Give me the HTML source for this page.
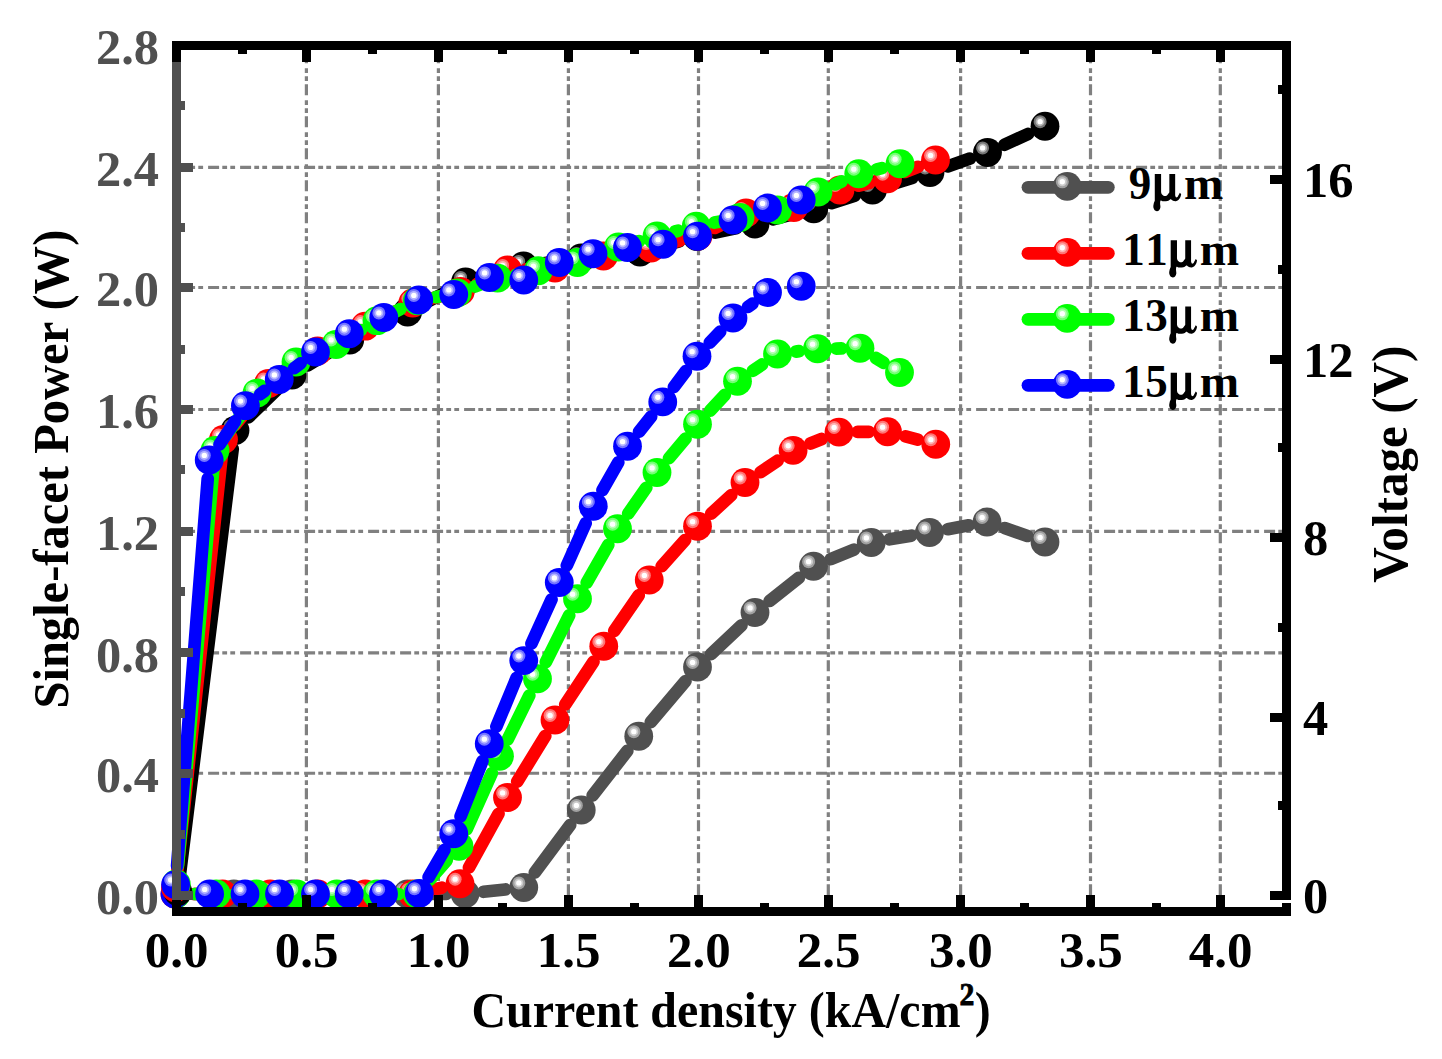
<!DOCTYPE html><html><head><meta charset="utf-8"><title>chart</title><style>html,body{margin:0;padding:0;background:#fff}body{width:1442px;height:1059px;overflow:hidden;font-family:"Liberation Serif",serif}</style></head><body><svg width="1442" height="1059" viewBox="0 0 1442 1059" style="display:block;position:absolute;left:0;top:0;font-family:'Liberation Serif',serif;font-weight:bold"><rect width="1442" height="1059" fill="#fff"/><path d="M306.40 895.30V45.5M438.40 895.30V45.5M568.40 895.30V45.5M698.50 895.30V45.5M828.30 895.30V45.5M960.60 895.30V45.5M1090.50 895.30V45.5M1220.30 895.30V45.5M176.10 773.25H1287M176.10 652.90H1287M176.10 531.30H1287M176.10 409.50H1287M176.10 287.50H1287M176.10 167.30H1287" stroke="#808080" stroke-width="3.2" stroke-dasharray="11 3.2 4.8 3.2 4.8 5" fill="none"/><path d="M194.60 894.00L215.30 894.00M252.50 894.00L273.20 894.00M310.40 894.00L331.10 894.00M368.30 894.00L389.00 894.00M426.20 893.92L446.40 893.83M483.50 891.78L505.25 889.47M534.83 872.56L570.17 824.94M592.69 795.33L627.31 750.92M650.78 722.07L685.47 681.18M711.00 654.20L741.50 625.30M769.59 600.96L798.91 577.79M830.70 559.18L854.05 549.57M889.58 539.35L911.17 535.65M947.80 529.16L968.70 525.34M1004.58 528.06L1027.42 535.94" stroke="#505050" stroke-width="12.7" stroke-linecap="round" fill="none"/><circle cx="176.00" cy="894.00" r="14.4" fill="#505050"/><circle cx="171.10" cy="889.40" r="6.5" fill="#fff" fill-opacity=".46"/><circle cx="171.10" cy="889.40" r="4.5" fill="#fff" fill-opacity=".46"/><circle cx="171.10" cy="889.40" r="2.7" fill="#fff"/><circle cx="233.90" cy="894.00" r="14.4" fill="#505050"/><circle cx="229.00" cy="889.40" r="6.5" fill="#fff" fill-opacity=".46"/><circle cx="229.00" cy="889.40" r="4.5" fill="#fff" fill-opacity=".46"/><circle cx="229.00" cy="889.40" r="2.7" fill="#fff"/><circle cx="291.80" cy="894.00" r="14.4" fill="#505050"/><circle cx="286.90" cy="889.40" r="6.5" fill="#fff" fill-opacity=".46"/><circle cx="286.90" cy="889.40" r="4.5" fill="#fff" fill-opacity=".46"/><circle cx="286.90" cy="889.40" r="2.7" fill="#fff"/><circle cx="349.70" cy="894.00" r="14.4" fill="#505050"/><circle cx="344.80" cy="889.40" r="6.5" fill="#fff" fill-opacity=".46"/><circle cx="344.80" cy="889.40" r="4.5" fill="#fff" fill-opacity=".46"/><circle cx="344.80" cy="889.40" r="2.7" fill="#fff"/><circle cx="407.60" cy="894.00" r="14.4" fill="#505050"/><circle cx="402.70" cy="889.40" r="6.5" fill="#fff" fill-opacity=".46"/><circle cx="402.70" cy="889.40" r="4.5" fill="#fff" fill-opacity=".46"/><circle cx="402.70" cy="889.40" r="2.7" fill="#fff"/><circle cx="465.00" cy="893.75" r="14.4" fill="#505050"/><circle cx="460.10" cy="889.15" r="6.5" fill="#fff" fill-opacity=".46"/><circle cx="460.10" cy="889.15" r="4.5" fill="#fff" fill-opacity=".46"/><circle cx="460.10" cy="889.15" r="2.7" fill="#fff"/><circle cx="523.75" cy="887.50" r="14.4" fill="#505050"/><circle cx="518.85" cy="882.90" r="6.5" fill="#fff" fill-opacity=".46"/><circle cx="518.85" cy="882.90" r="4.5" fill="#fff" fill-opacity=".46"/><circle cx="518.85" cy="882.90" r="2.7" fill="#fff"/><circle cx="581.25" cy="810.00" r="14.4" fill="#505050"/><circle cx="576.35" cy="805.40" r="6.5" fill="#fff" fill-opacity=".46"/><circle cx="576.35" cy="805.40" r="4.5" fill="#fff" fill-opacity=".46"/><circle cx="576.35" cy="805.40" r="2.7" fill="#fff"/><circle cx="638.75" cy="736.25" r="14.4" fill="#505050"/><circle cx="633.85" cy="731.65" r="6.5" fill="#fff" fill-opacity=".46"/><circle cx="633.85" cy="731.65" r="4.5" fill="#fff" fill-opacity=".46"/><circle cx="633.85" cy="731.65" r="2.7" fill="#fff"/><circle cx="697.50" cy="667.00" r="14.4" fill="#505050"/><circle cx="692.60" cy="662.40" r="6.5" fill="#fff" fill-opacity=".46"/><circle cx="692.60" cy="662.40" r="4.5" fill="#fff" fill-opacity=".46"/><circle cx="692.60" cy="662.40" r="2.7" fill="#fff"/><circle cx="755.00" cy="612.50" r="14.4" fill="#505050"/><circle cx="750.10" cy="607.90" r="6.5" fill="#fff" fill-opacity=".46"/><circle cx="750.10" cy="607.90" r="4.5" fill="#fff" fill-opacity=".46"/><circle cx="750.10" cy="607.90" r="2.7" fill="#fff"/><circle cx="813.50" cy="566.25" r="14.4" fill="#505050"/><circle cx="808.60" cy="561.65" r="6.5" fill="#fff" fill-opacity=".46"/><circle cx="808.60" cy="561.65" r="4.5" fill="#fff" fill-opacity=".46"/><circle cx="808.60" cy="561.65" r="2.7" fill="#fff"/><circle cx="871.25" cy="542.50" r="14.4" fill="#505050"/><circle cx="866.35" cy="537.90" r="6.5" fill="#fff" fill-opacity=".46"/><circle cx="866.35" cy="537.90" r="4.5" fill="#fff" fill-opacity=".46"/><circle cx="866.35" cy="537.90" r="2.7" fill="#fff"/><circle cx="929.50" cy="532.50" r="14.4" fill="#505050"/><circle cx="924.60" cy="527.90" r="6.5" fill="#fff" fill-opacity=".46"/><circle cx="924.60" cy="527.90" r="4.5" fill="#fff" fill-opacity=".46"/><circle cx="924.60" cy="527.90" r="2.7" fill="#fff"/><circle cx="987.00" cy="522.00" r="14.4" fill="#505050"/><circle cx="982.10" cy="517.40" r="6.5" fill="#fff" fill-opacity=".46"/><circle cx="982.10" cy="517.40" r="4.5" fill="#fff" fill-opacity=".46"/><circle cx="982.10" cy="517.40" r="2.7" fill="#fff"/><circle cx="1045.00" cy="542.00" r="14.4" fill="#505050"/><circle cx="1040.10" cy="537.40" r="6.5" fill="#fff" fill-opacity=".46"/><circle cx="1040.10" cy="537.40" r="4.5" fill="#fff" fill-opacity=".46"/><circle cx="1040.10" cy="537.40" r="2.7" fill="#fff"/><path d="M193.60 894.00L203.95 894.00M241.15 894.00L251.50 894.00M288.70 894.00L299.05 894.00M336.25 894.00L346.60 894.00M383.80 894.00L394.15 894.00M430.93 890.06L441.82 887.69M468.97 867.46L498.53 813.79M517.22 781.64L545.28 735.86M565.26 704.48L593.49 661.77M614.28 630.92L638.72 595.33M661.67 566.16L685.08 540.09M711.18 513.65L731.32 495.10M760.47 472.18L777.63 460.72M810.38 443.51L821.72 438.99M857.60 431.97L868.90 431.88M905.51 436.41L917.74 439.59" stroke="#ff0000" stroke-width="12.7" stroke-linecap="round" fill="none"/><circle cx="175.00" cy="894.00" r="14.4" fill="#ff0000"/><circle cx="170.10" cy="889.40" r="6.5" fill="#fff" fill-opacity=".46"/><circle cx="170.10" cy="889.40" r="4.5" fill="#fff" fill-opacity=".46"/><circle cx="170.10" cy="889.40" r="2.7" fill="#fff"/><circle cx="222.55" cy="894.00" r="14.4" fill="#ff0000"/><circle cx="217.65" cy="889.40" r="6.5" fill="#fff" fill-opacity=".46"/><circle cx="217.65" cy="889.40" r="4.5" fill="#fff" fill-opacity=".46"/><circle cx="217.65" cy="889.40" r="2.7" fill="#fff"/><circle cx="270.10" cy="894.00" r="14.4" fill="#ff0000"/><circle cx="265.20" cy="889.40" r="6.5" fill="#fff" fill-opacity=".46"/><circle cx="265.20" cy="889.40" r="4.5" fill="#fff" fill-opacity=".46"/><circle cx="265.20" cy="889.40" r="2.7" fill="#fff"/><circle cx="317.65" cy="894.00" r="14.4" fill="#ff0000"/><circle cx="312.75" cy="889.40" r="6.5" fill="#fff" fill-opacity=".46"/><circle cx="312.75" cy="889.40" r="4.5" fill="#fff" fill-opacity=".46"/><circle cx="312.75" cy="889.40" r="2.7" fill="#fff"/><circle cx="365.20" cy="894.00" r="14.4" fill="#ff0000"/><circle cx="360.30" cy="889.40" r="6.5" fill="#fff" fill-opacity=".46"/><circle cx="360.30" cy="889.40" r="4.5" fill="#fff" fill-opacity=".46"/><circle cx="360.30" cy="889.40" r="2.7" fill="#fff"/><circle cx="412.75" cy="894.00" r="14.4" fill="#ff0000"/><circle cx="407.85" cy="889.40" r="6.5" fill="#fff" fill-opacity=".46"/><circle cx="407.85" cy="889.40" r="4.5" fill="#fff" fill-opacity=".46"/><circle cx="407.85" cy="889.40" r="2.7" fill="#fff"/><circle cx="460.00" cy="883.75" r="14.4" fill="#ff0000"/><circle cx="455.10" cy="879.15" r="6.5" fill="#fff" fill-opacity=".46"/><circle cx="455.10" cy="879.15" r="4.5" fill="#fff" fill-opacity=".46"/><circle cx="455.10" cy="879.15" r="2.7" fill="#fff"/><circle cx="507.50" cy="797.50" r="14.4" fill="#ff0000"/><circle cx="502.60" cy="792.90" r="6.5" fill="#fff" fill-opacity=".46"/><circle cx="502.60" cy="792.90" r="4.5" fill="#fff" fill-opacity=".46"/><circle cx="502.60" cy="792.90" r="2.7" fill="#fff"/><circle cx="555.00" cy="720.00" r="14.4" fill="#ff0000"/><circle cx="550.10" cy="715.40" r="6.5" fill="#fff" fill-opacity=".46"/><circle cx="550.10" cy="715.40" r="4.5" fill="#fff" fill-opacity=".46"/><circle cx="550.10" cy="715.40" r="2.7" fill="#fff"/><circle cx="603.75" cy="646.25" r="14.4" fill="#ff0000"/><circle cx="598.85" cy="641.65" r="6.5" fill="#fff" fill-opacity=".46"/><circle cx="598.85" cy="641.65" r="4.5" fill="#fff" fill-opacity=".46"/><circle cx="598.85" cy="641.65" r="2.7" fill="#fff"/><circle cx="649.25" cy="580.00" r="14.4" fill="#ff0000"/><circle cx="644.35" cy="575.40" r="6.5" fill="#fff" fill-opacity=".46"/><circle cx="644.35" cy="575.40" r="4.5" fill="#fff" fill-opacity=".46"/><circle cx="644.35" cy="575.40" r="2.7" fill="#fff"/><circle cx="697.50" cy="526.25" r="14.4" fill="#ff0000"/><circle cx="692.60" cy="521.65" r="6.5" fill="#fff" fill-opacity=".46"/><circle cx="692.60" cy="521.65" r="4.5" fill="#fff" fill-opacity=".46"/><circle cx="692.60" cy="521.65" r="2.7" fill="#fff"/><circle cx="745.00" cy="482.50" r="14.4" fill="#ff0000"/><circle cx="740.10" cy="477.90" r="6.5" fill="#fff" fill-opacity=".46"/><circle cx="740.10" cy="477.90" r="4.5" fill="#fff" fill-opacity=".46"/><circle cx="740.10" cy="477.90" r="2.7" fill="#fff"/><circle cx="793.10" cy="450.40" r="14.4" fill="#ff0000"/><circle cx="788.20" cy="445.80" r="6.5" fill="#fff" fill-opacity=".46"/><circle cx="788.20" cy="445.80" r="4.5" fill="#fff" fill-opacity=".46"/><circle cx="788.20" cy="445.80" r="2.7" fill="#fff"/><circle cx="839.00" cy="432.10" r="14.4" fill="#ff0000"/><circle cx="834.10" cy="427.50" r="6.5" fill="#fff" fill-opacity=".46"/><circle cx="834.10" cy="427.50" r="4.5" fill="#fff" fill-opacity=".46"/><circle cx="834.10" cy="427.50" r="2.7" fill="#fff"/><circle cx="887.50" cy="431.75" r="14.4" fill="#ff0000"/><circle cx="882.60" cy="427.15" r="6.5" fill="#fff" fill-opacity=".46"/><circle cx="882.60" cy="427.15" r="4.5" fill="#fff" fill-opacity=".46"/><circle cx="882.60" cy="427.15" r="2.7" fill="#fff"/><circle cx="935.75" cy="444.25" r="14.4" fill="#ff0000"/><circle cx="930.85" cy="439.65" r="6.5" fill="#fff" fill-opacity=".46"/><circle cx="930.85" cy="439.65" r="4.5" fill="#fff" fill-opacity=".46"/><circle cx="930.85" cy="439.65" r="2.7" fill="#fff"/><path d="M194.60 894.00L197.60 894.00M234.80 894.00L237.80 894.00M275.00 894.00L278.00 894.00M315.20 894.00L318.20 894.00M355.40 894.00L358.40 894.00M395.60 894.00L398.60 894.00M429.45 880.00L446.75 860.25M466.63 829.29L491.87 773.21M507.69 739.55L529.31 695.45M545.82 662.11L569.18 615.39M586.73 582.60L608.27 544.90M628.19 513.53L646.31 487.72M668.96 458.25L685.54 438.50M710.17 410.63L724.83 394.87M752.87 370.78L762.13 364.47M795.94 351.58L799.06 351.17M836.10 348.53L841.40 348.47M875.85 357.98L883.65 362.77" stroke="#00ff00" stroke-width="12.7" stroke-linecap="round" fill="none"/><circle cx="176.00" cy="894.00" r="14.4" fill="#00ff00"/><circle cx="171.10" cy="889.40" r="6.5" fill="#fff" fill-opacity=".46"/><circle cx="171.10" cy="889.40" r="4.5" fill="#fff" fill-opacity=".46"/><circle cx="171.10" cy="889.40" r="2.7" fill="#fff"/><circle cx="216.20" cy="894.00" r="14.4" fill="#00ff00"/><circle cx="211.30" cy="889.40" r="6.5" fill="#fff" fill-opacity=".46"/><circle cx="211.30" cy="889.40" r="4.5" fill="#fff" fill-opacity=".46"/><circle cx="211.30" cy="889.40" r="2.7" fill="#fff"/><circle cx="256.40" cy="894.00" r="14.4" fill="#00ff00"/><circle cx="251.50" cy="889.40" r="6.5" fill="#fff" fill-opacity=".46"/><circle cx="251.50" cy="889.40" r="4.5" fill="#fff" fill-opacity=".46"/><circle cx="251.50" cy="889.40" r="2.7" fill="#fff"/><circle cx="296.60" cy="894.00" r="14.4" fill="#00ff00"/><circle cx="291.70" cy="889.40" r="6.5" fill="#fff" fill-opacity=".46"/><circle cx="291.70" cy="889.40" r="4.5" fill="#fff" fill-opacity=".46"/><circle cx="291.70" cy="889.40" r="2.7" fill="#fff"/><circle cx="336.80" cy="894.00" r="14.4" fill="#00ff00"/><circle cx="331.90" cy="889.40" r="6.5" fill="#fff" fill-opacity=".46"/><circle cx="331.90" cy="889.40" r="4.5" fill="#fff" fill-opacity=".46"/><circle cx="331.90" cy="889.40" r="2.7" fill="#fff"/><circle cx="377.00" cy="894.00" r="14.4" fill="#00ff00"/><circle cx="372.10" cy="889.40" r="6.5" fill="#fff" fill-opacity=".46"/><circle cx="372.10" cy="889.40" r="4.5" fill="#fff" fill-opacity=".46"/><circle cx="372.10" cy="889.40" r="2.7" fill="#fff"/><circle cx="417.20" cy="894.00" r="14.4" fill="#00ff00"/><circle cx="412.30" cy="889.40" r="6.5" fill="#fff" fill-opacity=".46"/><circle cx="412.30" cy="889.40" r="4.5" fill="#fff" fill-opacity=".46"/><circle cx="412.30" cy="889.40" r="2.7" fill="#fff"/><circle cx="459.00" cy="846.25" r="14.4" fill="#00ff00"/><circle cx="454.10" cy="841.65" r="6.5" fill="#fff" fill-opacity=".46"/><circle cx="454.10" cy="841.65" r="4.5" fill="#fff" fill-opacity=".46"/><circle cx="454.10" cy="841.65" r="2.7" fill="#fff"/><circle cx="499.50" cy="756.25" r="14.4" fill="#00ff00"/><circle cx="494.60" cy="751.65" r="6.5" fill="#fff" fill-opacity=".46"/><circle cx="494.60" cy="751.65" r="4.5" fill="#fff" fill-opacity=".46"/><circle cx="494.60" cy="751.65" r="2.7" fill="#fff"/><circle cx="537.50" cy="678.75" r="14.4" fill="#00ff00"/><circle cx="532.60" cy="674.15" r="6.5" fill="#fff" fill-opacity=".46"/><circle cx="532.60" cy="674.15" r="4.5" fill="#fff" fill-opacity=".46"/><circle cx="532.60" cy="674.15" r="2.7" fill="#fff"/><circle cx="577.50" cy="598.75" r="14.4" fill="#00ff00"/><circle cx="572.60" cy="594.15" r="6.5" fill="#fff" fill-opacity=".46"/><circle cx="572.60" cy="594.15" r="4.5" fill="#fff" fill-opacity=".46"/><circle cx="572.60" cy="594.15" r="2.7" fill="#fff"/><circle cx="617.50" cy="528.75" r="14.4" fill="#00ff00"/><circle cx="612.60" cy="524.15" r="6.5" fill="#fff" fill-opacity=".46"/><circle cx="612.60" cy="524.15" r="4.5" fill="#fff" fill-opacity=".46"/><circle cx="612.60" cy="524.15" r="2.7" fill="#fff"/><circle cx="657.00" cy="472.50" r="14.4" fill="#00ff00"/><circle cx="652.10" cy="467.90" r="6.5" fill="#fff" fill-opacity=".46"/><circle cx="652.10" cy="467.90" r="4.5" fill="#fff" fill-opacity=".46"/><circle cx="652.10" cy="467.90" r="2.7" fill="#fff"/><circle cx="697.50" cy="424.25" r="14.4" fill="#00ff00"/><circle cx="692.60" cy="419.65" r="6.5" fill="#fff" fill-opacity=".46"/><circle cx="692.60" cy="419.65" r="4.5" fill="#fff" fill-opacity=".46"/><circle cx="692.60" cy="419.65" r="2.7" fill="#fff"/><circle cx="737.50" cy="381.25" r="14.4" fill="#00ff00"/><circle cx="732.60" cy="376.65" r="6.5" fill="#fff" fill-opacity=".46"/><circle cx="732.60" cy="376.65" r="4.5" fill="#fff" fill-opacity=".46"/><circle cx="732.60" cy="376.65" r="2.7" fill="#fff"/><circle cx="777.50" cy="354.00" r="14.4" fill="#00ff00"/><circle cx="772.60" cy="349.40" r="6.5" fill="#fff" fill-opacity=".46"/><circle cx="772.60" cy="349.40" r="4.5" fill="#fff" fill-opacity=".46"/><circle cx="772.60" cy="349.40" r="2.7" fill="#fff"/><circle cx="817.50" cy="348.75" r="14.4" fill="#00ff00"/><circle cx="812.60" cy="344.15" r="6.5" fill="#fff" fill-opacity=".46"/><circle cx="812.60" cy="344.15" r="4.5" fill="#fff" fill-opacity=".46"/><circle cx="812.60" cy="344.15" r="2.7" fill="#fff"/><circle cx="860.00" cy="348.25" r="14.4" fill="#00ff00"/><circle cx="855.10" cy="343.65" r="6.5" fill="#fff" fill-opacity=".46"/><circle cx="855.10" cy="343.65" r="4.5" fill="#fff" fill-opacity=".46"/><circle cx="855.10" cy="343.65" r="2.7" fill="#fff"/><circle cx="899.50" cy="372.50" r="14.4" fill="#00ff00"/><circle cx="894.60" cy="367.90" r="6.5" fill="#fff" fill-opacity=".46"/><circle cx="894.60" cy="367.90" r="4.5" fill="#fff" fill-opacity=".46"/><circle cx="894.60" cy="367.90" r="2.7" fill="#fff"/><path d="M428.61 877.20L444.44 849.85M460.57 816.45L482.43 761.05M496.38 726.57L516.62 677.78M531.45 643.67L551.55 599.43M566.82 565.51L585.68 523.24M602.47 490.10L618.28 462.40M639.07 431.69L651.18 416.46M673.91 387.02L685.84 371.13M709.75 342.71L720.25 331.54M747.96 306.94L752.54 303.56" stroke="#0000ff" stroke-width="12.7" stroke-linecap="round" fill="none"/><circle cx="175.00" cy="894.00" r="14.4" fill="#0000ff"/><circle cx="170.10" cy="889.40" r="6.5" fill="#fff" fill-opacity=".46"/><circle cx="170.10" cy="889.40" r="4.5" fill="#fff" fill-opacity=".46"/><circle cx="170.10" cy="889.40" r="2.7" fill="#fff"/><circle cx="209.60" cy="894.00" r="14.4" fill="#0000ff"/><circle cx="204.70" cy="889.40" r="6.5" fill="#fff" fill-opacity=".46"/><circle cx="204.70" cy="889.40" r="4.5" fill="#fff" fill-opacity=".46"/><circle cx="204.70" cy="889.40" r="2.7" fill="#fff"/><circle cx="245.00" cy="894.00" r="14.4" fill="#0000ff"/><circle cx="240.10" cy="889.40" r="6.5" fill="#fff" fill-opacity=".46"/><circle cx="240.10" cy="889.40" r="4.5" fill="#fff" fill-opacity=".46"/><circle cx="240.10" cy="889.40" r="2.7" fill="#fff"/><circle cx="279.50" cy="894.00" r="14.4" fill="#0000ff"/><circle cx="274.60" cy="889.40" r="6.5" fill="#fff" fill-opacity=".46"/><circle cx="274.60" cy="889.40" r="4.5" fill="#fff" fill-opacity=".46"/><circle cx="274.60" cy="889.40" r="2.7" fill="#fff"/><circle cx="315.50" cy="894.00" r="14.4" fill="#0000ff"/><circle cx="310.60" cy="889.40" r="6.5" fill="#fff" fill-opacity=".46"/><circle cx="310.60" cy="889.40" r="4.5" fill="#fff" fill-opacity=".46"/><circle cx="310.60" cy="889.40" r="2.7" fill="#fff"/><circle cx="349.20" cy="894.00" r="14.4" fill="#0000ff"/><circle cx="344.30" cy="889.40" r="6.5" fill="#fff" fill-opacity=".46"/><circle cx="344.30" cy="889.40" r="4.5" fill="#fff" fill-opacity=".46"/><circle cx="344.30" cy="889.40" r="2.7" fill="#fff"/><circle cx="383.50" cy="894.00" r="14.4" fill="#0000ff"/><circle cx="378.60" cy="889.40" r="6.5" fill="#fff" fill-opacity=".46"/><circle cx="378.60" cy="889.40" r="4.5" fill="#fff" fill-opacity=".46"/><circle cx="378.60" cy="889.40" r="2.7" fill="#fff"/><circle cx="419.30" cy="893.30" r="14.4" fill="#0000ff"/><circle cx="414.40" cy="888.70" r="6.5" fill="#fff" fill-opacity=".46"/><circle cx="414.40" cy="888.70" r="4.5" fill="#fff" fill-opacity=".46"/><circle cx="414.40" cy="888.70" r="2.7" fill="#fff"/><circle cx="453.75" cy="833.75" r="14.4" fill="#0000ff"/><circle cx="448.85" cy="829.15" r="6.5" fill="#fff" fill-opacity=".46"/><circle cx="448.85" cy="829.15" r="4.5" fill="#fff" fill-opacity=".46"/><circle cx="448.85" cy="829.15" r="2.7" fill="#fff"/><circle cx="489.25" cy="743.75" r="14.4" fill="#0000ff"/><circle cx="484.35" cy="739.15" r="6.5" fill="#fff" fill-opacity=".46"/><circle cx="484.35" cy="739.15" r="4.5" fill="#fff" fill-opacity=".46"/><circle cx="484.35" cy="739.15" r="2.7" fill="#fff"/><circle cx="523.75" cy="660.60" r="14.4" fill="#0000ff"/><circle cx="518.85" cy="656.00" r="6.5" fill="#fff" fill-opacity=".46"/><circle cx="518.85" cy="656.00" r="4.5" fill="#fff" fill-opacity=".46"/><circle cx="518.85" cy="656.00" r="2.7" fill="#fff"/><circle cx="559.25" cy="582.50" r="14.4" fill="#0000ff"/><circle cx="554.35" cy="577.90" r="6.5" fill="#fff" fill-opacity=".46"/><circle cx="554.35" cy="577.90" r="4.5" fill="#fff" fill-opacity=".46"/><circle cx="554.35" cy="577.90" r="2.7" fill="#fff"/><circle cx="593.25" cy="506.25" r="14.4" fill="#0000ff"/><circle cx="588.35" cy="501.65" r="6.5" fill="#fff" fill-opacity=".46"/><circle cx="588.35" cy="501.65" r="4.5" fill="#fff" fill-opacity=".46"/><circle cx="588.35" cy="501.65" r="2.7" fill="#fff"/><circle cx="627.50" cy="446.25" r="14.4" fill="#0000ff"/><circle cx="622.60" cy="441.65" r="6.5" fill="#fff" fill-opacity=".46"/><circle cx="622.60" cy="441.65" r="4.5" fill="#fff" fill-opacity=".46"/><circle cx="622.60" cy="441.65" r="2.7" fill="#fff"/><circle cx="662.75" cy="401.90" r="14.4" fill="#0000ff"/><circle cx="657.85" cy="397.30" r="6.5" fill="#fff" fill-opacity=".46"/><circle cx="657.85" cy="397.30" r="4.5" fill="#fff" fill-opacity=".46"/><circle cx="657.85" cy="397.30" r="2.7" fill="#fff"/><circle cx="697.00" cy="356.25" r="14.4" fill="#0000ff"/><circle cx="692.10" cy="351.65" r="6.5" fill="#fff" fill-opacity=".46"/><circle cx="692.10" cy="351.65" r="4.5" fill="#fff" fill-opacity=".46"/><circle cx="692.10" cy="351.65" r="2.7" fill="#fff"/><circle cx="733.00" cy="318.00" r="14.4" fill="#0000ff"/><circle cx="728.10" cy="313.40" r="6.5" fill="#fff" fill-opacity=".46"/><circle cx="728.10" cy="313.40" r="4.5" fill="#fff" fill-opacity=".46"/><circle cx="728.10" cy="313.40" r="2.7" fill="#fff"/><circle cx="767.50" cy="292.50" r="14.4" fill="#0000ff"/><circle cx="762.60" cy="287.90" r="6.5" fill="#fff" fill-opacity=".46"/><circle cx="762.60" cy="287.90" r="4.5" fill="#fff" fill-opacity=".46"/><circle cx="762.60" cy="287.90" r="2.7" fill="#fff"/><circle cx="801.25" cy="286.25" r="14.4" fill="#0000ff"/><circle cx="796.35" cy="281.65" r="6.5" fill="#fff" fill-opacity=".46"/><circle cx="796.35" cy="281.65" r="4.5" fill="#fff" fill-opacity=".46"/><circle cx="796.35" cy="281.65" r="2.7" fill="#fff"/><path d="M180.09 873.14L232.71 448.96M248.33 417.52L278.67 387.98M307.90 365.35L333.80 349.65M366.44 331.90L390.86 320.10M424.11 303.44L448.99 290.56M483.43 277.05L505.57 270.95M541.92 263.45L562.88 260.55M599.80 256.11L621.50 253.89M657.95 247.13L679.15 241.37M715.28 232.57L736.82 227.93M773.00 219.33L795.75 213.42M831.47 203.09L854.78 195.66M890.29 184.58L912.21 177.92M947.57 166.39L969.93 158.61M1004.42 144.78L1028.08 133.97" stroke="#000000" stroke-width="12.7" stroke-linecap="round" fill="none"/><circle cx="177.80" cy="891.60" r="14.4" fill="#000000"/><circle cx="172.90" cy="887.00" r="6.5" fill="#fff" fill-opacity=".46"/><circle cx="172.90" cy="887.00" r="4.5" fill="#fff" fill-opacity=".46"/><circle cx="172.90" cy="887.00" r="2.7" fill="#fff"/><circle cx="235.00" cy="430.50" r="14.4" fill="#000000"/><circle cx="230.10" cy="425.90" r="6.5" fill="#fff" fill-opacity=".46"/><circle cx="230.10" cy="425.90" r="4.5" fill="#fff" fill-opacity=".46"/><circle cx="230.10" cy="425.90" r="2.7" fill="#fff"/><circle cx="292.00" cy="375.00" r="14.4" fill="#000000"/><circle cx="287.10" cy="370.40" r="6.5" fill="#fff" fill-opacity=".46"/><circle cx="287.10" cy="370.40" r="4.5" fill="#fff" fill-opacity=".46"/><circle cx="287.10" cy="370.40" r="2.7" fill="#fff"/><circle cx="349.70" cy="340.00" r="14.4" fill="#000000"/><circle cx="344.80" cy="335.40" r="6.5" fill="#fff" fill-opacity=".46"/><circle cx="344.80" cy="335.40" r="4.5" fill="#fff" fill-opacity=".46"/><circle cx="344.80" cy="335.40" r="2.7" fill="#fff"/><circle cx="407.60" cy="312.00" r="14.4" fill="#000000"/><circle cx="402.70" cy="307.40" r="6.5" fill="#fff" fill-opacity=".46"/><circle cx="402.70" cy="307.40" r="4.5" fill="#fff" fill-opacity=".46"/><circle cx="402.70" cy="307.40" r="2.7" fill="#fff"/><circle cx="465.50" cy="282.00" r="14.4" fill="#000000"/><circle cx="460.60" cy="277.40" r="6.5" fill="#fff" fill-opacity=".46"/><circle cx="460.60" cy="277.40" r="4.5" fill="#fff" fill-opacity=".46"/><circle cx="460.60" cy="277.40" r="2.7" fill="#fff"/><circle cx="523.50" cy="266.00" r="14.4" fill="#000000"/><circle cx="518.60" cy="261.40" r="6.5" fill="#fff" fill-opacity=".46"/><circle cx="518.60" cy="261.40" r="4.5" fill="#fff" fill-opacity=".46"/><circle cx="518.60" cy="261.40" r="2.7" fill="#fff"/><circle cx="581.30" cy="258.00" r="14.4" fill="#000000"/><circle cx="576.40" cy="253.40" r="6.5" fill="#fff" fill-opacity=".46"/><circle cx="576.40" cy="253.40" r="4.5" fill="#fff" fill-opacity=".46"/><circle cx="576.40" cy="253.40" r="2.7" fill="#fff"/><circle cx="640.00" cy="252.00" r="14.4" fill="#000000"/><circle cx="635.10" cy="247.40" r="6.5" fill="#fff" fill-opacity=".46"/><circle cx="635.10" cy="247.40" r="4.5" fill="#fff" fill-opacity=".46"/><circle cx="635.10" cy="247.40" r="2.7" fill="#fff"/><circle cx="697.10" cy="236.50" r="14.4" fill="#000000"/><circle cx="692.20" cy="231.90" r="6.5" fill="#fff" fill-opacity=".46"/><circle cx="692.20" cy="231.90" r="4.5" fill="#fff" fill-opacity=".46"/><circle cx="692.20" cy="231.90" r="2.7" fill="#fff"/><circle cx="755.00" cy="224.00" r="14.4" fill="#000000"/><circle cx="750.10" cy="219.40" r="6.5" fill="#fff" fill-opacity=".46"/><circle cx="750.10" cy="219.40" r="4.5" fill="#fff" fill-opacity=".46"/><circle cx="750.10" cy="219.40" r="2.7" fill="#fff"/><circle cx="813.75" cy="208.75" r="14.4" fill="#000000"/><circle cx="808.85" cy="204.15" r="6.5" fill="#fff" fill-opacity=".46"/><circle cx="808.85" cy="204.15" r="4.5" fill="#fff" fill-opacity=".46"/><circle cx="808.85" cy="204.15" r="2.7" fill="#fff"/><circle cx="872.50" cy="190.00" r="14.4" fill="#000000"/><circle cx="867.60" cy="185.40" r="6.5" fill="#fff" fill-opacity=".46"/><circle cx="867.60" cy="185.40" r="4.5" fill="#fff" fill-opacity=".46"/><circle cx="867.60" cy="185.40" r="2.7" fill="#fff"/><circle cx="930.00" cy="172.50" r="14.4" fill="#000000"/><circle cx="925.10" cy="167.90" r="6.5" fill="#fff" fill-opacity=".46"/><circle cx="925.10" cy="167.90" r="4.5" fill="#fff" fill-opacity=".46"/><circle cx="925.10" cy="167.90" r="2.7" fill="#fff"/><circle cx="987.50" cy="152.50" r="14.4" fill="#000000"/><circle cx="982.60" cy="147.90" r="6.5" fill="#fff" fill-opacity=".46"/><circle cx="982.60" cy="147.90" r="4.5" fill="#fff" fill-opacity=".46"/><circle cx="982.60" cy="147.90" r="2.7" fill="#fff"/><circle cx="1045.00" cy="126.25" r="14.4" fill="#000000"/><circle cx="1040.10" cy="121.65" r="6.5" fill="#fff" fill-opacity=".46"/><circle cx="1040.10" cy="121.65" r="4.5" fill="#fff" fill-opacity=".46"/><circle cx="1040.10" cy="121.65" r="2.7" fill="#fff"/><path d="M177.48 869.31L221.52 457.99M235.15 425.00L256.85 398.00M284.01 373.24L302.14 361.26M334.14 342.40L348.71 334.80M381.92 318.04L396.03 311.16M430.82 298.59L442.23 295.81M477.24 283.72L490.56 277.68M526.08 269.22L536.42 268.78M573.06 263.53L585.44 260.47M621.84 252.91L632.66 251.09M669.02 243.40L679.98 240.60M714.77 227.96L729.23 221.04M764.48 210.87L775.27 209.63M811.15 200.92L822.60 196.58M858.10 185.71L869.40 183.04M904.83 171.98L918.17 166.77" stroke="#ff0000" stroke-width="12.7" stroke-linecap="round" fill="none"/><circle cx="175.50" cy="887.80" r="14.4" fill="#ff0000"/><circle cx="170.60" cy="883.20" r="6.5" fill="#fff" fill-opacity=".46"/><circle cx="170.60" cy="883.20" r="4.5" fill="#fff" fill-opacity=".46"/><circle cx="170.60" cy="883.20" r="2.7" fill="#fff"/><circle cx="223.50" cy="439.50" r="14.4" fill="#ff0000"/><circle cx="218.60" cy="434.90" r="6.5" fill="#fff" fill-opacity=".46"/><circle cx="218.60" cy="434.90" r="4.5" fill="#fff" fill-opacity=".46"/><circle cx="218.60" cy="434.90" r="2.7" fill="#fff"/><circle cx="268.50" cy="383.50" r="14.4" fill="#ff0000"/><circle cx="263.60" cy="378.90" r="6.5" fill="#fff" fill-opacity=".46"/><circle cx="263.60" cy="378.90" r="4.5" fill="#fff" fill-opacity=".46"/><circle cx="263.60" cy="378.90" r="2.7" fill="#fff"/><circle cx="317.65" cy="351.00" r="14.4" fill="#ff0000"/><circle cx="312.75" cy="346.40" r="6.5" fill="#fff" fill-opacity=".46"/><circle cx="312.75" cy="346.40" r="4.5" fill="#fff" fill-opacity=".46"/><circle cx="312.75" cy="346.40" r="2.7" fill="#fff"/><circle cx="365.20" cy="326.20" r="14.4" fill="#ff0000"/><circle cx="360.30" cy="321.60" r="6.5" fill="#fff" fill-opacity=".46"/><circle cx="360.30" cy="321.60" r="4.5" fill="#fff" fill-opacity=".46"/><circle cx="360.30" cy="321.60" r="2.7" fill="#fff"/><circle cx="412.75" cy="303.00" r="14.4" fill="#ff0000"/><circle cx="407.85" cy="298.40" r="6.5" fill="#fff" fill-opacity=".46"/><circle cx="407.85" cy="298.40" r="4.5" fill="#fff" fill-opacity=".46"/><circle cx="407.85" cy="298.40" r="2.7" fill="#fff"/><circle cx="460.30" cy="291.40" r="14.4" fill="#ff0000"/><circle cx="455.40" cy="286.80" r="6.5" fill="#fff" fill-opacity=".46"/><circle cx="455.40" cy="286.80" r="4.5" fill="#fff" fill-opacity=".46"/><circle cx="455.40" cy="286.80" r="2.7" fill="#fff"/><circle cx="507.50" cy="270.00" r="14.4" fill="#ff0000"/><circle cx="502.60" cy="265.40" r="6.5" fill="#fff" fill-opacity=".46"/><circle cx="502.60" cy="265.40" r="4.5" fill="#fff" fill-opacity=".46"/><circle cx="502.60" cy="265.40" r="2.7" fill="#fff"/><circle cx="555.00" cy="268.00" r="14.4" fill="#ff0000"/><circle cx="550.10" cy="263.40" r="6.5" fill="#fff" fill-opacity=".46"/><circle cx="550.10" cy="263.40" r="4.5" fill="#fff" fill-opacity=".46"/><circle cx="550.10" cy="263.40" r="2.7" fill="#fff"/><circle cx="603.50" cy="256.00" r="14.4" fill="#ff0000"/><circle cx="598.60" cy="251.40" r="6.5" fill="#fff" fill-opacity=".46"/><circle cx="598.60" cy="251.40" r="4.5" fill="#fff" fill-opacity=".46"/><circle cx="598.60" cy="251.40" r="2.7" fill="#fff"/><circle cx="651.00" cy="248.00" r="14.4" fill="#ff0000"/><circle cx="646.10" cy="243.40" r="6.5" fill="#fff" fill-opacity=".46"/><circle cx="646.10" cy="243.40" r="4.5" fill="#fff" fill-opacity=".46"/><circle cx="646.10" cy="243.40" r="2.7" fill="#fff"/><circle cx="698.00" cy="236.00" r="14.4" fill="#ff0000"/><circle cx="693.10" cy="231.40" r="6.5" fill="#fff" fill-opacity=".46"/><circle cx="693.10" cy="231.40" r="4.5" fill="#fff" fill-opacity=".46"/><circle cx="693.10" cy="231.40" r="2.7" fill="#fff"/><circle cx="746.00" cy="213.00" r="14.4" fill="#ff0000"/><circle cx="741.10" cy="208.40" r="6.5" fill="#fff" fill-opacity=".46"/><circle cx="741.10" cy="208.40" r="4.5" fill="#fff" fill-opacity=".46"/><circle cx="741.10" cy="208.40" r="2.7" fill="#fff"/><circle cx="793.75" cy="207.50" r="14.4" fill="#ff0000"/><circle cx="788.85" cy="202.90" r="6.5" fill="#fff" fill-opacity=".46"/><circle cx="788.85" cy="202.90" r="4.5" fill="#fff" fill-opacity=".46"/><circle cx="788.85" cy="202.90" r="2.7" fill="#fff"/><circle cx="840.00" cy="190.00" r="14.4" fill="#ff0000"/><circle cx="835.10" cy="185.40" r="6.5" fill="#fff" fill-opacity=".46"/><circle cx="835.10" cy="185.40" r="4.5" fill="#fff" fill-opacity=".46"/><circle cx="835.10" cy="185.40" r="2.7" fill="#fff"/><circle cx="887.50" cy="178.75" r="14.4" fill="#ff0000"/><circle cx="882.60" cy="174.15" r="6.5" fill="#fff" fill-opacity=".46"/><circle cx="882.60" cy="174.15" r="4.5" fill="#fff" fill-opacity=".46"/><circle cx="882.60" cy="174.15" r="2.7" fill="#fff"/><circle cx="935.50" cy="160.00" r="14.4" fill="#ff0000"/><circle cx="930.60" cy="155.40" r="6.5" fill="#fff" fill-opacity=".46"/><circle cx="930.60" cy="155.40" r="4.5" fill="#fff" fill-opacity=".46"/><circle cx="930.60" cy="155.40" r="2.7" fill="#fff"/><path d="M177.95 865.47L213.35 469.03M225.97 435.48L246.03 408.02M271.56 381.43L281.44 373.57M313.04 354.54L318.96 351.96M352.09 335.16L360.91 330.04M393.67 312.45L400.53 309.05M435.44 297.17L439.16 296.43M474.87 286.41L480.13 284.49M515.90 274.79L519.95 274.06M556.45 266.92L559.30 266.33M594.90 255.92L601.10 253.58M636.38 241.89L639.12 241.11M675.05 231.52L678.20 230.73M714.49 222.60L721.76 221.15M794.50 202.45L801.00 199.55M834.98 184.40L841.77 181.35M876.83 169.37L881.92 168.13" stroke="#00ff00" stroke-width="12.7" stroke-linecap="round" fill="none"/><circle cx="176.30" cy="884.00" r="14.4" fill="#00ff00"/><circle cx="171.40" cy="879.40" r="6.5" fill="#fff" fill-opacity=".46"/><circle cx="171.40" cy="879.40" r="4.5" fill="#fff" fill-opacity=".46"/><circle cx="171.40" cy="879.40" r="2.7" fill="#fff"/><circle cx="215.00" cy="450.50" r="14.4" fill="#00ff00"/><circle cx="210.10" cy="445.90" r="6.5" fill="#fff" fill-opacity=".46"/><circle cx="210.10" cy="445.90" r="4.5" fill="#fff" fill-opacity=".46"/><circle cx="210.10" cy="445.90" r="2.7" fill="#fff"/><circle cx="257.00" cy="393.00" r="14.4" fill="#00ff00"/><circle cx="252.10" cy="388.40" r="6.5" fill="#fff" fill-opacity=".46"/><circle cx="252.10" cy="388.40" r="4.5" fill="#fff" fill-opacity=".46"/><circle cx="252.10" cy="388.40" r="2.7" fill="#fff"/><circle cx="296.00" cy="362.00" r="14.4" fill="#00ff00"/><circle cx="291.10" cy="357.40" r="6.5" fill="#fff" fill-opacity=".46"/><circle cx="291.10" cy="357.40" r="4.5" fill="#fff" fill-opacity=".46"/><circle cx="291.10" cy="357.40" r="2.7" fill="#fff"/><circle cx="336.00" cy="344.50" r="14.4" fill="#00ff00"/><circle cx="331.10" cy="339.90" r="6.5" fill="#fff" fill-opacity=".46"/><circle cx="331.10" cy="339.90" r="4.5" fill="#fff" fill-opacity=".46"/><circle cx="331.10" cy="339.90" r="2.7" fill="#fff"/><circle cx="377.00" cy="320.70" r="14.4" fill="#00ff00"/><circle cx="372.10" cy="316.10" r="6.5" fill="#fff" fill-opacity=".46"/><circle cx="372.10" cy="316.10" r="4.5" fill="#fff" fill-opacity=".46"/><circle cx="372.10" cy="316.10" r="2.7" fill="#fff"/><circle cx="417.20" cy="300.80" r="14.4" fill="#00ff00"/><circle cx="412.30" cy="296.20" r="6.5" fill="#fff" fill-opacity=".46"/><circle cx="412.30" cy="296.20" r="4.5" fill="#fff" fill-opacity=".46"/><circle cx="412.30" cy="296.20" r="2.7" fill="#fff"/><circle cx="457.40" cy="292.80" r="14.4" fill="#00ff00"/><circle cx="452.50" cy="288.20" r="6.5" fill="#fff" fill-opacity=".46"/><circle cx="452.50" cy="288.20" r="4.5" fill="#fff" fill-opacity=".46"/><circle cx="452.50" cy="288.20" r="2.7" fill="#fff"/><circle cx="497.60" cy="278.10" r="14.4" fill="#00ff00"/><circle cx="492.70" cy="273.50" r="6.5" fill="#fff" fill-opacity=".46"/><circle cx="492.70" cy="273.50" r="4.5" fill="#fff" fill-opacity=".46"/><circle cx="492.70" cy="273.50" r="2.7" fill="#fff"/><circle cx="538.25" cy="270.75" r="14.4" fill="#00ff00"/><circle cx="533.35" cy="266.15" r="6.5" fill="#fff" fill-opacity=".46"/><circle cx="533.35" cy="266.15" r="4.5" fill="#fff" fill-opacity=".46"/><circle cx="533.35" cy="266.15" r="2.7" fill="#fff"/><circle cx="577.50" cy="262.50" r="14.4" fill="#00ff00"/><circle cx="572.60" cy="257.90" r="6.5" fill="#fff" fill-opacity=".46"/><circle cx="572.60" cy="257.90" r="4.5" fill="#fff" fill-opacity=".46"/><circle cx="572.60" cy="257.90" r="2.7" fill="#fff"/><circle cx="618.50" cy="247.00" r="14.4" fill="#00ff00"/><circle cx="613.60" cy="242.40" r="6.5" fill="#fff" fill-opacity=".46"/><circle cx="613.60" cy="242.40" r="4.5" fill="#fff" fill-opacity=".46"/><circle cx="613.60" cy="242.40" r="2.7" fill="#fff"/><circle cx="657.00" cy="236.00" r="14.4" fill="#00ff00"/><circle cx="652.10" cy="231.40" r="6.5" fill="#fff" fill-opacity=".46"/><circle cx="652.10" cy="231.40" r="4.5" fill="#fff" fill-opacity=".46"/><circle cx="652.10" cy="231.40" r="2.7" fill="#fff"/><circle cx="696.25" cy="226.25" r="14.4" fill="#00ff00"/><circle cx="691.35" cy="221.65" r="6.5" fill="#fff" fill-opacity=".46"/><circle cx="691.35" cy="221.65" r="4.5" fill="#fff" fill-opacity=".46"/><circle cx="691.35" cy="221.65" r="2.7" fill="#fff"/><circle cx="740.00" cy="217.50" r="14.4" fill="#00ff00"/><circle cx="735.10" cy="212.90" r="6.5" fill="#fff" fill-opacity=".46"/><circle cx="735.10" cy="212.90" r="4.5" fill="#fff" fill-opacity=".46"/><circle cx="735.10" cy="212.90" r="2.7" fill="#fff"/><circle cx="777.50" cy="210.00" r="14.4" fill="#00ff00"/><circle cx="772.60" cy="205.40" r="6.5" fill="#fff" fill-opacity=".46"/><circle cx="772.60" cy="205.40" r="4.5" fill="#fff" fill-opacity=".46"/><circle cx="772.60" cy="205.40" r="2.7" fill="#fff"/><circle cx="818.00" cy="192.00" r="14.4" fill="#00ff00"/><circle cx="813.10" cy="187.40" r="6.5" fill="#fff" fill-opacity=".46"/><circle cx="813.10" cy="187.40" r="4.5" fill="#fff" fill-opacity=".46"/><circle cx="813.10" cy="187.40" r="2.7" fill="#fff"/><circle cx="858.75" cy="173.75" r="14.4" fill="#00ff00"/><circle cx="853.85" cy="169.15" r="6.5" fill="#fff" fill-opacity=".46"/><circle cx="853.85" cy="169.15" r="4.5" fill="#fff" fill-opacity=".46"/><circle cx="853.85" cy="169.15" r="2.7" fill="#fff"/><circle cx="900.00" cy="163.75" r="14.4" fill="#00ff00"/><circle cx="895.10" cy="159.15" r="6.5" fill="#fff" fill-opacity=".46"/><circle cx="895.10" cy="159.15" r="4.5" fill="#fff" fill-opacity=".46"/><circle cx="895.10" cy="159.15" r="2.7" fill="#fff"/><path d="M177.07 866.06L207.73 478.54M219.52 444.52L235.08 421.18M260.11 394.32L264.54 390.88M294.07 368.26L300.68 363.24" stroke="#0000ff" stroke-width="12.7" stroke-linecap="round" fill="none"/><circle cx="175.60" cy="884.60" r="14.4" fill="#0000ff"/><circle cx="170.70" cy="880.00" r="6.5" fill="#fff" fill-opacity=".46"/><circle cx="170.70" cy="880.00" r="4.5" fill="#fff" fill-opacity=".46"/><circle cx="170.70" cy="880.00" r="2.7" fill="#fff"/><circle cx="209.20" cy="460.00" r="14.4" fill="#0000ff"/><circle cx="204.30" cy="455.40" r="6.5" fill="#fff" fill-opacity=".46"/><circle cx="204.30" cy="455.40" r="4.5" fill="#fff" fill-opacity=".46"/><circle cx="204.30" cy="455.40" r="2.7" fill="#fff"/><circle cx="245.40" cy="405.70" r="14.4" fill="#0000ff"/><circle cx="240.50" cy="401.10" r="6.5" fill="#fff" fill-opacity=".46"/><circle cx="240.50" cy="401.10" r="4.5" fill="#fff" fill-opacity=".46"/><circle cx="240.50" cy="401.10" r="2.7" fill="#fff"/><circle cx="279.25" cy="379.50" r="14.4" fill="#0000ff"/><circle cx="274.35" cy="374.90" r="6.5" fill="#fff" fill-opacity=".46"/><circle cx="274.35" cy="374.90" r="4.5" fill="#fff" fill-opacity=".46"/><circle cx="274.35" cy="374.90" r="2.7" fill="#fff"/><circle cx="315.50" cy="352.00" r="14.4" fill="#0000ff"/><circle cx="310.60" cy="347.40" r="6.5" fill="#fff" fill-opacity=".46"/><circle cx="310.60" cy="347.40" r="4.5" fill="#fff" fill-opacity=".46"/><circle cx="310.60" cy="347.40" r="2.7" fill="#fff"/><circle cx="349.25" cy="333.75" r="14.4" fill="#0000ff"/><circle cx="344.35" cy="329.15" r="6.5" fill="#fff" fill-opacity=".46"/><circle cx="344.35" cy="329.15" r="4.5" fill="#fff" fill-opacity=".46"/><circle cx="344.35" cy="329.15" r="2.7" fill="#fff"/><circle cx="383.75" cy="317.50" r="14.4" fill="#0000ff"/><circle cx="378.85" cy="312.90" r="6.5" fill="#fff" fill-opacity=".46"/><circle cx="378.85" cy="312.90" r="4.5" fill="#fff" fill-opacity=".46"/><circle cx="378.85" cy="312.90" r="2.7" fill="#fff"/><circle cx="418.75" cy="300.00" r="14.4" fill="#0000ff"/><circle cx="413.85" cy="295.40" r="6.5" fill="#fff" fill-opacity=".46"/><circle cx="413.85" cy="295.40" r="4.5" fill="#fff" fill-opacity=".46"/><circle cx="413.85" cy="295.40" r="2.7" fill="#fff"/><circle cx="453.75" cy="294.50" r="14.4" fill="#0000ff"/><circle cx="448.85" cy="289.90" r="6.5" fill="#fff" fill-opacity=".46"/><circle cx="448.85" cy="289.90" r="4.5" fill="#fff" fill-opacity=".46"/><circle cx="448.85" cy="289.90" r="2.7" fill="#fff"/><circle cx="489.50" cy="277.50" r="14.4" fill="#0000ff"/><circle cx="484.60" cy="272.90" r="6.5" fill="#fff" fill-opacity=".46"/><circle cx="484.60" cy="272.90" r="4.5" fill="#fff" fill-opacity=".46"/><circle cx="484.60" cy="272.90" r="2.7" fill="#fff"/><circle cx="523.75" cy="280.00" r="14.4" fill="#0000ff"/><circle cx="518.85" cy="275.40" r="6.5" fill="#fff" fill-opacity=".46"/><circle cx="518.85" cy="275.40" r="4.5" fill="#fff" fill-opacity=".46"/><circle cx="518.85" cy="275.40" r="2.7" fill="#fff"/><circle cx="559.25" cy="262.50" r="14.4" fill="#0000ff"/><circle cx="554.35" cy="257.90" r="6.5" fill="#fff" fill-opacity=".46"/><circle cx="554.35" cy="257.90" r="4.5" fill="#fff" fill-opacity=".46"/><circle cx="554.35" cy="257.90" r="2.7" fill="#fff"/><circle cx="593.00" cy="253.75" r="14.4" fill="#0000ff"/><circle cx="588.10" cy="249.15" r="6.5" fill="#fff" fill-opacity=".46"/><circle cx="588.10" cy="249.15" r="4.5" fill="#fff" fill-opacity=".46"/><circle cx="588.10" cy="249.15" r="2.7" fill="#fff"/><circle cx="627.50" cy="247.50" r="14.4" fill="#0000ff"/><circle cx="622.60" cy="242.90" r="6.5" fill="#fff" fill-opacity=".46"/><circle cx="622.60" cy="242.90" r="4.5" fill="#fff" fill-opacity=".46"/><circle cx="622.60" cy="242.90" r="2.7" fill="#fff"/><circle cx="663.00" cy="244.25" r="14.4" fill="#0000ff"/><circle cx="658.10" cy="239.65" r="6.5" fill="#fff" fill-opacity=".46"/><circle cx="658.10" cy="239.65" r="4.5" fill="#fff" fill-opacity=".46"/><circle cx="658.10" cy="239.65" r="2.7" fill="#fff"/><circle cx="697.50" cy="236.25" r="14.4" fill="#0000ff"/><circle cx="692.60" cy="231.65" r="6.5" fill="#fff" fill-opacity=".46"/><circle cx="692.60" cy="231.65" r="4.5" fill="#fff" fill-opacity=".46"/><circle cx="692.60" cy="231.65" r="2.7" fill="#fff"/><circle cx="733.00" cy="220.00" r="14.4" fill="#0000ff"/><circle cx="728.10" cy="215.40" r="6.5" fill="#fff" fill-opacity=".46"/><circle cx="728.10" cy="215.40" r="4.5" fill="#fff" fill-opacity=".46"/><circle cx="728.10" cy="215.40" r="2.7" fill="#fff"/><circle cx="767.50" cy="208.00" r="14.4" fill="#0000ff"/><circle cx="762.60" cy="203.40" r="6.5" fill="#fff" fill-opacity=".46"/><circle cx="762.60" cy="203.40" r="4.5" fill="#fff" fill-opacity=".46"/><circle cx="762.60" cy="203.40" r="2.7" fill="#fff"/><circle cx="801.25" cy="200.00" r="14.4" fill="#0000ff"/><circle cx="796.35" cy="195.40" r="6.5" fill="#fff" fill-opacity=".46"/><circle cx="796.35" cy="195.40" r="4.5" fill="#fff" fill-opacity=".46"/><circle cx="796.35" cy="195.40" r="2.7" fill="#fff"/><g fill="#000" shape-rendering="crispEdges"><rect x="172" y="907" width="1119" height="9"/><rect x="172" y="895" width="9" height="13"/><rect x="302" y="895" width="9" height="13"/><rect x="434" y="895" width="9" height="13"/><rect x="564" y="895" width="9" height="13"/><rect x="694" y="895" width="9" height="13"/><rect x="824" y="895" width="9" height="13"/><rect x="956" y="895" width="9" height="13"/><rect x="1086" y="895" width="9" height="13"/><rect x="1216" y="895" width="9" height="13"/><rect x="238" y="903" width="9" height="5"/><rect x="368" y="903" width="9" height="5"/><rect x="498" y="903" width="9" height="5"/><rect x="630" y="903" width="9" height="5"/><rect x="760" y="903" width="9" height="5"/><rect x="890" y="903" width="9" height="5"/><rect x="1020" y="903" width="9" height="5"/><rect x="1152" y="903" width="9" height="5"/><rect x="1282" y="903" width="9" height="5"/></g><g fill="#505050" shape-rendering="crispEdges"><rect x="172" y="41" width="9" height="859"/><rect x="180" y="891" width="13" height="9"/><rect x="180" y="769" width="13" height="9"/><rect x="180" y="648" width="13" height="9"/><rect x="180" y="527" width="13" height="9"/><rect x="180" y="405" width="13" height="9"/><rect x="180" y="283" width="13" height="9"/><rect x="180" y="163" width="13" height="9"/><rect x="180" y="41" width="13" height="9"/><rect x="180" y="830" width="5" height="9"/><rect x="180" y="709" width="5" height="9"/><rect x="180" y="587" width="5" height="9"/><rect x="180" y="465" width="5" height="9"/><rect x="180" y="345" width="5" height="9"/><rect x="180" y="223" width="5" height="9"/><rect x="180" y="101" width="5" height="9"/></g><g fill="#000" shape-rendering="crispEdges"><rect x="172" y="41" width="1119" height="9"/><rect x="172" y="49" width="9" height="13"/><rect x="302" y="49" width="9" height="13"/><rect x="434" y="49" width="9" height="13"/><rect x="564" y="49" width="9" height="13"/><rect x="694" y="49" width="9" height="13"/><rect x="824" y="49" width="9" height="13"/><rect x="956" y="49" width="9" height="13"/><rect x="1086" y="49" width="9" height="13"/><rect x="1216" y="49" width="9" height="13"/><rect x="238" y="49" width="9" height="5"/><rect x="368" y="49" width="9" height="5"/><rect x="498" y="49" width="9" height="5"/><rect x="630" y="49" width="9" height="5"/><rect x="760" y="49" width="9" height="5"/><rect x="890" y="49" width="9" height="5"/><rect x="1020" y="49" width="9" height="5"/><rect x="1152" y="49" width="9" height="5"/><rect x="1282" y="49" width="9" height="5"/><rect x="1282" y="41" width="9" height="859"/><rect x="1270" y="891" width="13" height="9"/><rect x="1270" y="713" width="13" height="9"/><rect x="1270" y="533" width="13" height="9"/><rect x="1270" y="355" width="13" height="9"/><rect x="1270" y="175" width="13" height="9"/><rect x="1278" y="801" width="5" height="9"/><rect x="1278" y="623" width="5" height="9"/><rect x="1278" y="443" width="5" height="9"/><rect x="1278" y="265" width="5" height="9"/><rect x="1278" y="85" width="5" height="9"/></g><text transform="translate(159.00 914.00) scale(1.01 1)" font-size="50" text-anchor="end" fill="#505050">0.0</text><text transform="translate(159.00 791.85) scale(1.01 1)" font-size="50" text-anchor="end" fill="#505050">0.4</text><text transform="translate(159.00 671.50) scale(1.01 1)" font-size="50" text-anchor="end" fill="#505050">0.8</text><text transform="translate(159.00 549.90) scale(1.01 1)" font-size="50" text-anchor="end" fill="#505050">1.2</text><text transform="translate(159.00 428.10) scale(1.01 1)" font-size="50" text-anchor="end" fill="#505050">1.6</text><text transform="translate(159.00 306.10) scale(1.01 1)" font-size="50" text-anchor="end" fill="#505050">2.0</text><text transform="translate(159.00 185.90) scale(1.01 1)" font-size="50" text-anchor="end" fill="#505050">2.4</text><text transform="translate(159.00 64.10) scale(1.01 1)" font-size="50" text-anchor="end" fill="#505050">2.8</text><text transform="translate(1303.00 913.20) scale(1.01 1)" font-size="50" text-anchor="start" fill="#000">0</text><text transform="translate(1303.00 735.25) scale(1.01 1)" font-size="50" text-anchor="start" fill="#000">4</text><text transform="translate(1303.00 555.40) scale(1.01 1)" font-size="50" text-anchor="start" fill="#000">8</text><text transform="translate(1303.00 377.20) scale(1.01 1)" font-size="50" text-anchor="start" fill="#000">12</text><text transform="translate(1303.00 197.20) scale(1.01 1)" font-size="50" text-anchor="start" fill="#000">16</text><text transform="translate(176.65 967.00) scale(1.02 1)" font-size="50" text-anchor="middle" fill="#000">0.0</text><text transform="translate(306.70 967.00) scale(1.02 1)" font-size="50" text-anchor="middle" fill="#000">0.5</text><text transform="translate(438.70 967.00) scale(1.02 1)" font-size="50" text-anchor="middle" fill="#000">1.0</text><text transform="translate(568.70 967.00) scale(1.02 1)" font-size="50" text-anchor="middle" fill="#000">1.5</text><text transform="translate(698.80 967.00) scale(1.02 1)" font-size="50" text-anchor="middle" fill="#000">2.0</text><text transform="translate(828.60 967.00) scale(1.02 1)" font-size="50" text-anchor="middle" fill="#000">2.5</text><text transform="translate(960.90 967.00) scale(1.02 1)" font-size="50" text-anchor="middle" fill="#000">3.0</text><text transform="translate(1090.80 967.00) scale(1.02 1)" font-size="50" text-anchor="middle" fill="#000">3.5</text><text transform="translate(1220.60 967.00) scale(1.02 1)" font-size="50" text-anchor="middle" fill="#000">4.0</text><text transform="translate(471.50 1026.50) scale(0.959 1)" font-size="50" text-anchor="start" fill="#000">Current density (kA/cm<tspan font-size="31" dy="-21.5" dx="-1.2" stroke="#000" stroke-width=".8">2</tspan><tspan dy="21.5" dx="0.5">)</tspan></text><text transform="translate(68.00 708.60) rotate(-90) scale(0.971 1)" font-size="50" text-anchor="start" fill="#000">Single-facet Power (W)</text><text transform="translate(1406.80 582.70) rotate(-90) scale(0.9836 1)" font-size="50" text-anchor="start" fill="#000">Voltage (V)</text><path d="M1028 187.30H1108.3" stroke="#505050" stroke-width="12.8" stroke-linecap="round"/><circle cx="1067.20" cy="186.40" r="14.4" fill="#505050"/><circle cx="1062.30" cy="181.80" r="6.5" fill="#fff" fill-opacity=".46"/><circle cx="1062.30" cy="181.80" r="4.5" fill="#fff" fill-opacity=".46"/><circle cx="1062.30" cy="181.80" r="2.7" fill="#fff"/><text transform="translate(1128.70 198.70) scale(0.9574468085106383 1)" font-size="47" text-anchor="start" fill="#000" style="font-kerning:none;letter-spacing:.5px">9</text><path transform="translate(1154.80 198.70)" d="M-0.02 -24.73L6.29 -24.73L6.29 -6.77C6.42 -6.36 6.55 -5.02 7.07 -4.34C7.59 -3.66 8.56 -2.87 9.4 -2.69C10.24 -2.51 11.26 -2.62 12.12 -3.27C12.98 -3.92 14.14 -6.02 14.54 -6.57L14.54 -24.73L20.37 -24.73L20.37 -3.37C20.50 -3.05 20.77 -1.71 21.14 -1.43C21.51 -1.15 22.13 -1.28 22.6 -1.72C23.07 -2.16 23.54 -3.34 23.96 -4.05C24.38 -4.76 24.93 -5.67 25.13 -5.99L26.39 -4.43C26.24 -3.93 25.98 -2.38 25.51 -1.43C25.04 -0.48 24.31 0.62 23.57 1.29C22.83 1.96 21.96 2.43 21.05 2.56C20.14 2.69 18.97 2.40 18.13 2.07C17.29 1.74 16.68 0.67 16.0 0.61C15.32 0.55 14.87 1.35 14.06 1.68C13.25 2.00 12.19 2.41 11.14 2.56C10.09 2.71 8.65 2.66 7.75 2.56C6.84 2.46 6.12 1.58 5.71 1.97C5.30 2.36 5.34 3.79 5.32 4.89C5.30 5.99 5.77 7.47 5.61 8.57C5.45 9.67 4.95 10.84 4.35 11.49C3.75 12.14 2.80 12.49 2.02 12.46C1.24 12.43 0.27 11.97 -0.31 11.29C-0.89 10.61 -1.35 9.42 -1.48 8.38C-1.61 7.35 -1.33 6.12 -1.09 5.08C-0.85 4.04 -0.20 2.65 -0.02 2.17L-0.02 -24.73Z" fill="#000"/><text transform="translate(1183.90 198.70) scale(1.0053191489361704 1)" font-size="47" text-anchor="start" fill="#000">m</text><path d="M1028 253.30H1108.3" stroke="#ff0000" stroke-width="12.8" stroke-linecap="round"/><circle cx="1067.20" cy="252.40" r="14.4" fill="#ff0000"/><circle cx="1062.30" cy="247.80" r="6.5" fill="#fff" fill-opacity=".46"/><circle cx="1062.30" cy="247.80" r="4.5" fill="#fff" fill-opacity=".46"/><circle cx="1062.30" cy="247.80" r="2.7" fill="#fff"/><text transform="translate(1122.30 264.95) scale(0.9574468085106383 1)" font-size="47" text-anchor="start" fill="#000" style="font-kerning:none;letter-spacing:.5px">11</text><path transform="translate(1170.70 264.95)" d="M-0.02 -24.73L6.29 -24.73L6.29 -6.77C6.42 -6.36 6.55 -5.02 7.07 -4.34C7.59 -3.66 8.56 -2.87 9.4 -2.69C10.24 -2.51 11.26 -2.62 12.12 -3.27C12.98 -3.92 14.14 -6.02 14.54 -6.57L14.54 -24.73L20.37 -24.73L20.37 -3.37C20.50 -3.05 20.77 -1.71 21.14 -1.43C21.51 -1.15 22.13 -1.28 22.6 -1.72C23.07 -2.16 23.54 -3.34 23.96 -4.05C24.38 -4.76 24.93 -5.67 25.13 -5.99L26.39 -4.43C26.24 -3.93 25.98 -2.38 25.51 -1.43C25.04 -0.48 24.31 0.62 23.57 1.29C22.83 1.96 21.96 2.43 21.05 2.56C20.14 2.69 18.97 2.40 18.13 2.07C17.29 1.74 16.68 0.67 16.0 0.61C15.32 0.55 14.87 1.35 14.06 1.68C13.25 2.00 12.19 2.41 11.14 2.56C10.09 2.71 8.65 2.66 7.75 2.56C6.84 2.46 6.12 1.58 5.71 1.97C5.30 2.36 5.34 3.79 5.32 4.89C5.30 5.99 5.77 7.47 5.61 8.57C5.45 9.67 4.95 10.84 4.35 11.49C3.75 12.14 2.80 12.49 2.02 12.46C1.24 12.43 0.27 11.97 -0.31 11.29C-0.89 10.61 -1.35 9.42 -1.48 8.38C-1.61 7.35 -1.33 6.12 -1.09 5.08C-0.85 4.04 -0.20 2.65 -0.02 2.17L-0.02 -24.73Z" fill="#000"/><text transform="translate(1199.70 264.95) scale(1.0053191489361704 1)" font-size="47" text-anchor="start" fill="#000">m</text><path d="M1028 319.30H1108.3" stroke="#00ff00" stroke-width="12.8" stroke-linecap="round"/><circle cx="1067.20" cy="318.40" r="14.4" fill="#00ff00"/><circle cx="1062.30" cy="313.80" r="6.5" fill="#fff" fill-opacity=".46"/><circle cx="1062.30" cy="313.80" r="4.5" fill="#fff" fill-opacity=".46"/><circle cx="1062.30" cy="313.80" r="2.7" fill="#fff"/><text transform="translate(1122.30 331.20) scale(0.9574468085106383 1)" font-size="47" text-anchor="start" fill="#000" style="font-kerning:none;letter-spacing:.5px">13</text><path transform="translate(1170.70 331.20)" d="M-0.02 -24.73L6.29 -24.73L6.29 -6.77C6.42 -6.36 6.55 -5.02 7.07 -4.34C7.59 -3.66 8.56 -2.87 9.4 -2.69C10.24 -2.51 11.26 -2.62 12.12 -3.27C12.98 -3.92 14.14 -6.02 14.54 -6.57L14.54 -24.73L20.37 -24.73L20.37 -3.37C20.50 -3.05 20.77 -1.71 21.14 -1.43C21.51 -1.15 22.13 -1.28 22.6 -1.72C23.07 -2.16 23.54 -3.34 23.96 -4.05C24.38 -4.76 24.93 -5.67 25.13 -5.99L26.39 -4.43C26.24 -3.93 25.98 -2.38 25.51 -1.43C25.04 -0.48 24.31 0.62 23.57 1.29C22.83 1.96 21.96 2.43 21.05 2.56C20.14 2.69 18.97 2.40 18.13 2.07C17.29 1.74 16.68 0.67 16.0 0.61C15.32 0.55 14.87 1.35 14.06 1.68C13.25 2.00 12.19 2.41 11.14 2.56C10.09 2.71 8.65 2.66 7.75 2.56C6.84 2.46 6.12 1.58 5.71 1.97C5.30 2.36 5.34 3.79 5.32 4.89C5.30 5.99 5.77 7.47 5.61 8.57C5.45 9.67 4.95 10.84 4.35 11.49C3.75 12.14 2.80 12.49 2.02 12.46C1.24 12.43 0.27 11.97 -0.31 11.29C-0.89 10.61 -1.35 9.42 -1.48 8.38C-1.61 7.35 -1.33 6.12 -1.09 5.08C-0.85 4.04 -0.20 2.65 -0.02 2.17L-0.02 -24.73Z" fill="#000"/><text transform="translate(1199.70 331.20) scale(1.0053191489361704 1)" font-size="47" text-anchor="start" fill="#000">m</text><path d="M1028 385.30H1108.3" stroke="#0000ff" stroke-width="12.8" stroke-linecap="round"/><circle cx="1067.20" cy="384.40" r="14.4" fill="#0000ff"/><circle cx="1062.30" cy="379.80" r="6.5" fill="#fff" fill-opacity=".46"/><circle cx="1062.30" cy="379.80" r="4.5" fill="#fff" fill-opacity=".46"/><circle cx="1062.30" cy="379.80" r="2.7" fill="#fff"/><text transform="translate(1122.30 397.45) scale(0.9574468085106383 1)" font-size="47" text-anchor="start" fill="#000" style="font-kerning:none;letter-spacing:.5px">15</text><path transform="translate(1170.70 397.45)" d="M-0.02 -24.73L6.29 -24.73L6.29 -6.77C6.42 -6.36 6.55 -5.02 7.07 -4.34C7.59 -3.66 8.56 -2.87 9.4 -2.69C10.24 -2.51 11.26 -2.62 12.12 -3.27C12.98 -3.92 14.14 -6.02 14.54 -6.57L14.54 -24.73L20.37 -24.73L20.37 -3.37C20.50 -3.05 20.77 -1.71 21.14 -1.43C21.51 -1.15 22.13 -1.28 22.6 -1.72C23.07 -2.16 23.54 -3.34 23.96 -4.05C24.38 -4.76 24.93 -5.67 25.13 -5.99L26.39 -4.43C26.24 -3.93 25.98 -2.38 25.51 -1.43C25.04 -0.48 24.31 0.62 23.57 1.29C22.83 1.96 21.96 2.43 21.05 2.56C20.14 2.69 18.97 2.40 18.13 2.07C17.29 1.74 16.68 0.67 16.0 0.61C15.32 0.55 14.87 1.35 14.06 1.68C13.25 2.00 12.19 2.41 11.14 2.56C10.09 2.71 8.65 2.66 7.75 2.56C6.84 2.46 6.12 1.58 5.71 1.97C5.30 2.36 5.34 3.79 5.32 4.89C5.30 5.99 5.77 7.47 5.61 8.57C5.45 9.67 4.95 10.84 4.35 11.49C3.75 12.14 2.80 12.49 2.02 12.46C1.24 12.43 0.27 11.97 -0.31 11.29C-0.89 10.61 -1.35 9.42 -1.48 8.38C-1.61 7.35 -1.33 6.12 -1.09 5.08C-0.85 4.04 -0.20 2.65 -0.02 2.17L-0.02 -24.73Z" fill="#000"/><text transform="translate(1199.70 397.45) scale(1.0053191489361704 1)" font-size="47" text-anchor="start" fill="#000">m</text></svg></body></html>
